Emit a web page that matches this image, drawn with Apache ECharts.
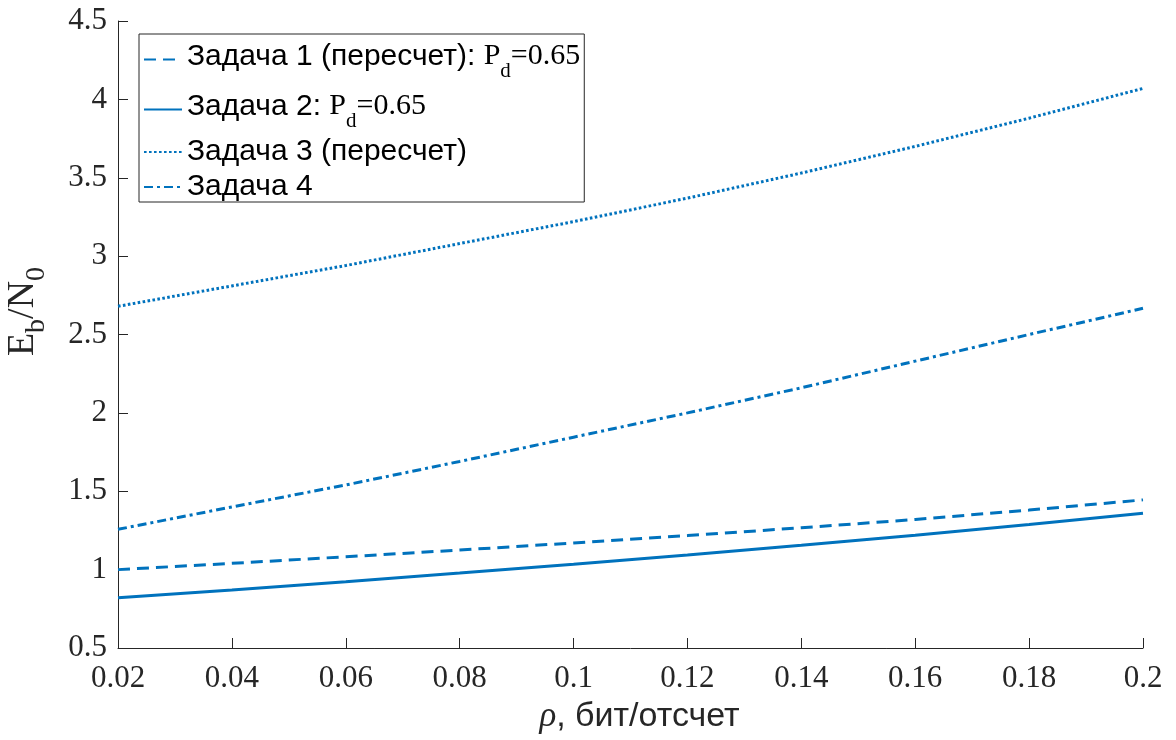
<!DOCTYPE html>
<html>
<head>
<meta charset="utf-8">
<script src="https://cdn.jsdelivr.net/npm/echarts@6/dist/echarts.min.js"></script>
<style>
  html, body { margin: 0; padding: 0; background: #ffffff; }
  #chart { width: 1176px; height: 740px; }
</style>
</head>
<body>
<div id="chart"></div>
<script>
// Spectral efficiency, bit per sample
const rho = [0.02, 0.04, 0.06, 0.08, 0.10, 0.12, 0.14, 0.16, 0.18, 0.20];

// Required Eb/N0 for each task
const task1 = [1.00, 1.04, 1.082, 1.125, 1.17, 1.217, 1.267, 1.32, 1.38, 1.445];
const task2 = [0.82, 0.87, 0.923, 0.978, 1.035, 1.094, 1.155, 1.22, 1.288, 1.36];
const task3 = [2.68, 2.81, 2.94, 3.08, 3.22, 3.37, 3.53, 3.70, 3.88, 4.07];
const task4 = [1.257, 1.40, 1.54, 1.69, 1.845, 2.00, 2.16, 2.33, 2.50, 2.667];

const seriesNames = ['Задача 1 (пересчет)', 'Задача 2', 'Задача 3 (пересчет)', 'Задача 4'];
const pdValues = ['0.65', '0.65', null, null];

// Axis ranges and tick steps
const xRange = [0.02, 0.2, 0.02];
const yRange = [0.5, 4.5, 0.5];

const BLUE = '#0072BD';
const AXIS = '#262626';
const dashes = [[12, 7], 'solid', [2.6, 2.4], [9, 4, 3, 4]];
const values = [task1, task2, task3, task4];

function pairs(ys) {
  return rho.map((x, i) => [x, ys[i]]);
}

const chart = echarts.init(document.getElementById('chart'), null, { renderer: 'canvas' });

chart.setOption({
  animation: false,
  backgroundColor: '#ffffff',
  grid: { left: 118, right: 33, top: 21, bottom: 92, containLabel: false, outerBoundsMode: 'none' },
  legend: {
    orient: 'vertical',
    left: 139,
    top: 34,
    itemWidth: 38,
    itemHeight: 20,
    itemGap: 5,
    padding: [3, 4, 0, 4],
    borderColor: AXIS,
    borderWidth: 1,
    backgroundColor: '#ffffff',
    selectedMode: false,
    itemStyle: { opacity: 0 },
    data: seriesNames,
    formatter: function (name) {
      const i = seriesNames.indexOf(name);
      if (pdValues[i]) {
        return '{a|' + name + ': }{p|P}{d|d}{p|=' + pdValues[i] + '}';
      }
      return '{b|' + name + '}';
    },
    textStyle: {
      color: '#000000',
      rich: {
        a: { fontFamily: 'Liberation Sans', fontSize: 30, lineHeight: 47, padding: [0, 0, 6, 0], color: '#000' },
        p: { fontFamily: 'Liberation Serif', fontSize: 30, lineHeight: 47, padding: [0, 0, 6, 0], color: '#000' },
        d: { fontFamily: 'Liberation Serif', fontSize: 21, lineHeight: 47, padding: [24, 0, 0, 0], color: '#000' },
        b: { fontFamily: 'Liberation Sans', fontSize: 30, lineHeight: 30, color: '#000' }
      }
    }
  },
  xAxis: {
    type: 'value',
    min: xRange[0],
    max: xRange[1],
    interval: xRange[2],
    name: '{r|ρ}{t|, бит/отсчет}',
    nameLocation: 'middle',
    nameGap: 51,
    nameTextStyle: {
      padding: [0, 0, 0, 18],
      rich: {
        r: { fontFamily: 'Liberation Serif', fontStyle: 'italic', fontSize: 35, lineHeight: 36, color: '#262626' },
        t: { fontFamily: 'Liberation Sans', fontSize: 34, lineHeight: 36, color: '#262626' }
      }
    },
    axisLine: { show: true, lineStyle: { color: AXIS, width: 1 } },
    axisTick: { show: true, inside: true, length: 10, lineStyle: { color: AXIS, width: 1 } },
    axisLabel: { fontFamily: 'Liberation Serif', fontSize: 31, color: AXIS, margin: 15 },
    splitLine: { show: false }
  },
  yAxis: {
    type: 'value',
    min: yRange[0],
    max: yRange[1],
    interval: yRange[2],
    name: '{m|E}{s|b}{m|/N}{s|0}',
    nameLocation: 'middle',
    nameGap: 73,
    nameMoveOverlap: false,
    nameTextStyle: {
      padding: [0, 0, 0, 46],
      rich: {
        m: { fontFamily: 'Liberation Serif', fontSize: 38, lineHeight: 44, color: '#262626' },
        s: { fontFamily: 'Liberation Serif', fontSize: 28, lineHeight: 44, padding: [28, 0, 0, 0], color: '#262626' }
      }
    },
    axisLine: { show: true, lineStyle: { color: AXIS, width: 1 } },
    axisTick: { show: true, inside: true, length: 10, lineStyle: { color: AXIS, width: 1 } },
    axisLabel: { fontFamily: 'Liberation Serif', fontSize: 31, color: AXIS, margin: 11 },
    splitLine: { show: false }
  },
  series: seriesNames.map((name, i) => ({
    name: name,
    type: 'line',
    data: pairs(values[i]),
    symbol: 'none',
    color: BLUE,
    lineStyle: { color: BLUE, width: 3, type: dashes[i] }
  }))
});
</script>
</body>
</html>
